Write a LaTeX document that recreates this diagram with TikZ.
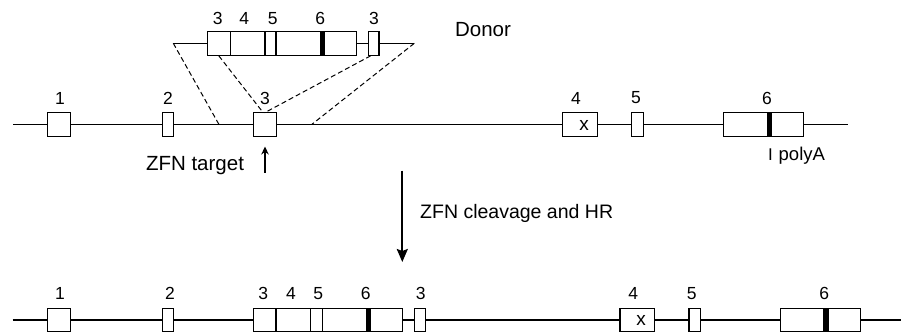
\documentclass[tikz,border=0pt]{standalone}
\usepackage{fontspec}
\setmainfont{Liberation Sans}
\usetikzlibrary{arrows.meta}
\tikzset{
  gene/.style={line width=1.1pt},
  exon/.style={draw, fill=white, line width=1.1pt, rectangle, inner sep=0pt, minimum height=23.5pt},
  bar/.style={fill=black, draw=none, rectangle, inner sep=0pt, minimum height=23.5pt},
  num/.style={font=\fontsize{17.5}{19}\selectfont, inner sep=0pt},
  lbl/.style={font=\fontsize{20.5}{23}\selectfont, inner sep=0pt},
  xover/.style={dashed, dash pattern=on 5pt off 3pt, line width=1pt},
}
\begin{document}
\begin{tikzpicture}[x=1pt,y=-1pt]
\useasboundingbox (0,0) rectangle (901,335);
% ---------- donor ----------
\coordinate (dl) at (173.3,43.3);
\coordinate (dr) at (414.3,43.3);
\draw[gene] (dl) -- (dr);
\node[exon, minimum width=23pt] (d3) at (218.8,43.5) {};
\node[exon, minimum width=34.7pt] (d4) at (247.65,43.5) {};
\node[exon, minimum width=11pt] (d5) at (270.5,43.5) {};
\node[exon, minimum width=80.7pt] (d6) at (316.35,43.5) {};
\node[bar, minimum width=5pt] (d6b) at (322.5,43.5) {};
\node[exon, minimum width=10.7pt] (d3b) at (373.65,43.5) {};
\node[num] (ld3) at (217.7,18.3) {3};
\node[num] (ld4) at (244.3,18.3) {4};
\node[num] (ld5) at (272.7,18.3) {5};
\node[num] (ld6) at (320.3,18.3) {6};
\node[num] (ld3b) at (374,18.3) {3};
\node[lbl] (donor) at (483,30) {Donor};
% ---------- middle (wild type) ----------
\coordinate (ml) at (13,124.5);
\coordinate (mr) at (848.3,124.5);
\draw[gene] (ml) -- (mr);
\node[exon, minimum width=23.4pt] (m1) at (59,124.5) {};
\node[exon, minimum width=11pt] (m2) at (167.8,124.5) {};
\node[exon, minimum width=23.4pt] (m3) at (265,124.5) {};
\node[exon, minimum width=35.4pt] (m4) at (580,124.5) {};
\node[num, font=\fontsize{19}{20}\selectfont] (mx) at (584,125) {x};
\node[exon, minimum width=12.3pt] (m5) at (637.2,124.5) {};
\node[exon, minimum width=80pt] (m6) at (763.3,124.5) {};
\node[bar, minimum width=5pt] (m6b) at (769.2,124.5) {};
\node[num] (lm1) at (60,98) {1};
\node[num] (lm2) at (168,98) {2};
\node[num] (lm3) at (265,98) {3};
\node[num] (lm4) at (576,98) {4};
\node[num] (lm5) at (636,98) {5};
\node[num] (lm6) at (767,98) {6};
\node[lbl, font=\fontsize{17}{19}\selectfont] (pa1) at (770.5,155) {I};
\node[lbl, font=\fontsize{18.5}{20}\selectfont, anchor=west] (pa) at (778.5,156) {polyA};
% crossover lines
\coordinate (xl) at (219,124.5);
\coordinate (xr) at (311.7,124.5);
\coordinate (t3a) at (263.3,112.8);
\coordinate (t3b) at (264.5,112.8);
\draw[xover] (dl) -- (xl);
\draw[xover] (d3.south) -- (t3a);
\draw[xover] ([xshift=-3pt]d3b.south) -- (t3b);
\draw[xover] (dr) -- (xr);
% ZFN target
\node[lbl] (zfn) at (195,166) {ZFN target};
\coordinate (za) at (265,172.5);
\coordinate (zb) at (265,146.5);
\draw[line width=1.3pt, -{Stealth[length=8pt,width=7.5pt]}] (za) -- (zb);
% big arrow
\coordinate (ba) at (402.3,170.5);
\coordinate (bb) at (402.3,262);
\draw[line width=2pt, -{Stealth[length=13pt,width=11pt,inset=2pt]}] (ba) -- (bb);
\node[lbl, font=\fontsize{19.5}{21}\selectfont, anchor=west] (hr) at (420,213) {ZFN cleavage and HR};
% ---------- bottom (targeted) ----------
\coordinate (bl) at (12.7,320);
\coordinate (br) at (901,320);
\draw[gene] (bl) -- (br);
\node[exon, minimum width=23.4pt] (b1) at (59,320) {};
\node[exon, minimum width=11pt] (b2) at (167.8,320) {};
\node[exon, minimum width=22.7pt] (b3) at (264.65,320) {};
\node[exon, minimum width=34.7pt] (b4) at (293.35,320) {};
\node[exon, minimum width=11.6pt] (b5) at (316.5,320) {};
\node[exon, minimum width=80pt] (b6) at (362.3,320) {};
\node[bar, minimum width=5.3pt] (b6b) at (368.35,320) {};
\node[exon, minimum width=11.4pt] (b3b) at (420,320) {};
\node[exon, minimum width=34.3pt] (b4w) at (637.15,320) {};
\node[num, font=\fontsize{19}{20}\selectfont] (bx) at (641,320.5) {x};
\node[exon, minimum width=11.7pt] (b5w) at (694.85,320) {};
\node[exon, minimum width=80pt] (b6w) at (820.7,320) {};
\node[bar, minimum width=5.7pt] (b6wb) at (826.15,320) {};
\node[num] (lb1) at (60,293.3) {1};
\node[num] (lb2) at (170,293.3) {2};
\node[num] (lb3) at (263.3,293.3) {3};
\node[num] (lb4) at (291,293.3) {4};
\node[num] (lb5) at (318.3,293.3) {5};
\node[num] (lb6) at (365.7,293.3) {6};
\node[num] (lb3b) at (420.7,293.3) {3};
\node[num] (lb4w) at (633.3,293.3) {4};
\node[num] (lb5w) at (691.7,293.3) {5};
\node[num] (lb6w) at (824.3,293.3) {6};
\end{tikzpicture}
\end{document}
